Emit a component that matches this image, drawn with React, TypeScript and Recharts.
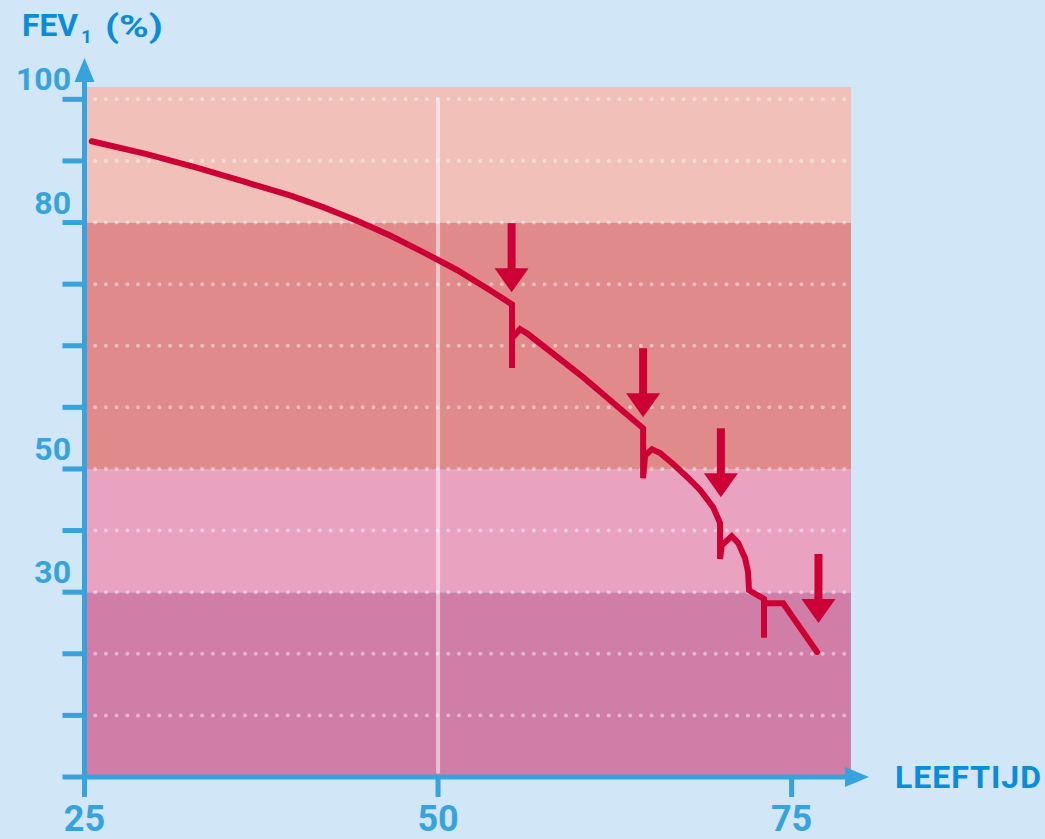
import { ComposedChart, Line, XAxis, YAxis, ReferenceArea, ReferenceLine, ReferenceDot } from "recharts"

// FEV1 curve, y in gridline steps (schematic axis: 30 sits on step 3, 50 on 5, 80 on 9, 100 on 11)
const curveAge = [
  25.51, 29.4, 32.93, 36.47, 39.53, 41.87, 44.27, 46.61, 48.94, 51.34, 53.67, 55.23, 55.23, 55.23, 55.8,
  56.36, 60.25, 64.5, 64.5, 64.64, 65.13, 65.7, 66.62, 67.61, 68.53, 69.45, 69.94, 69.94, 70.06, 70.77,
  71.22, 71.71, 71.92, 71.99, 73.05, 73.05, 73.05, 74.4, 76.8,
]
const curveLevel = [
  10.32, 10.11, 9.89, 9.65, 9.44, 9.25, 9.03, 8.79, 8.52, 8.23, 7.9, 7.67, 6.64, 7.12, 7.27,
  7.19, 6.49, 5.66, 4.85, 5.22, 5.32, 5.26, 5.08, 4.87, 4.66, 4.38, 4.12, 3.54, 3.76, 3.91,
  3.8, 3.55, 3.33, 3.03, 2.89, 2.26, 2.82, 2.82, 2.03,
]

// exacerbation arrows (tip positions)
const arrowAge = [55.2, 64.5, 70.0, 76.9]
const arrowLevel = [7.87, 5.84, 4.54, 2.5]

// coloured bands
const bandFrom = [0, 3, 5, 9]
const bandTo = [3, 5, 9, 11.2]
const bandColors = ["#d07ea8", "#e9a3c0", "#e08a8c", "#f1c0b8"]

const gridSteps = [0, 1, 2, 3, 4, 5, 6, 7, 8, 9, 10, 11]
const yLabelSteps = [3, 5, 9, 11]
const yLabels = ["30", "50", "80", "100"]
const xTicks = [25, 50, 75]

const X_MAX = 79.2
const Y_MAX = 11.2

const AXIS = "#36a3dc"
const TITLE = "#0a8cd8"
const RED = "#cc0035"
const FONT = "Roboto, 'DejaVu Sans', sans-serif"

const curve = curveAge.map((age, i) => ({ age, step: curveLevel[i] }))

function Arrow(props: any) {
  const { cx, cy } = props
  return (
    <g>
      <rect x={cx - 4} y={cy - 69} width={8} height={47} fill={RED} />
      <polygon points={`${cx},${cy} ${cx - 17},${cy - 24} ${cx + 17},${cy - 24}`} fill={RED} />
    </g>
  )
}

function YArrow(props: any) {
  const { cx, cy } = props
  return (
    <g>
      <rect x={cx - 2.5} y={cy - 6} width={5} height={8} fill={AXIS} />
      <polygon points={`${cx},${cy - 29} ${cx - 10},${cy - 5} ${cx + 10},${cy - 5}`} fill={AXIS} />
    </g>
  )
}

function XArrow(props: any) {
  const { cx, cy } = props
  return <polygon points={`${cx - 6},${cy - 10} ${cx + 18},${cy} ${cx - 6},${cy + 10}`} fill={AXIS} />
}

function YTick(props: any) {
  const idx = yLabelSteps.indexOf(props.payload.value)
  if (idx < 0) return <g />
  return (
    <text x={71} y={props.y - 9} textAnchor="end" fontSize={32} fontWeight={700} fontFamily={FONT} fill={AXIS}>
      {yLabels[idx]}
    </text>
  )
}

function XTick(props: any) {
  return (
    <text x={props.x} y={831} textAnchor="middle" fontSize={36} fontWeight={700} fontFamily={FONT} fill={AXIS}>
      {props.payload.value}
    </text>
  )
}

export default function App() {
  return (
    <div style={{ position: "absolute", left: 0, top: 0, width: 1045, height: 839, background: "#d1e6f7" }}>
      <ComposedChart width={1045} height={839} margin={{ top: 87, right: 194, bottom: 12, left: 24.5 }}>
        <XAxis
          type="number"
          dataKey="age"
          domain={[25, X_MAX]}
          ticks={xTicks}
          height={50}
          axisLine={{ stroke: AXIS, strokeWidth: 5 }}
          tickLine={{ stroke: AXIS, strokeWidth: 5 }}
          tickSize={20}
          tick={<XTick />}
          allowDataOverflow
        />
        <YAxis
          type="number"
          dataKey="step"
          domain={[0, Y_MAX]}
          ticks={gridSteps}
          width={60}
          axisLine={{ stroke: AXIS, strokeWidth: 5 }}
          tickLine={{ stroke: AXIS, strokeWidth: 5 }}
          tickSize={22}
          tick={<YTick />}
          interval={0}
          allowDataOverflow
        />
        {bandFrom.map((from, i) => (
          <ReferenceArea key={`band-${i}`} y1={from} y2={bandTo[i]} fill={bandColors[i]} fillOpacity={1} stroke="none" />
        ))}
        {gridSteps.slice(1).map((s) => (
          <ReferenceLine
            key={`grid-${s}`}
            y={s}
            stroke="#ffffff"
            strokeOpacity={0.45}
            strokeWidth={4}
            strokeLinecap="round"
            strokeDasharray="0 10.7"
          />
        ))}
        <ReferenceLine
          segment={[
            { x: 50, y: 0.08 },
            { x: 50, y: 11 },
          ]}
          stroke="#ffffff"
          strokeOpacity={0.5}
          strokeWidth={4}
          strokeLinecap="round"
        />
        <Line
          data={curve}
          dataKey="step"
          type="linear"
          stroke={RED}
          strokeWidth={6}
          strokeLinecap="round"
          dot={false}
          activeDot={false}
          isAnimationActive={false}
        />
        {arrowAge.map((a, i) => (
          <ReferenceDot key={`arrow-${i}`} x={a} y={arrowLevel[i]} shape={Arrow} ifOverflow="visible" />
        ))}
        <ReferenceDot x={25} y={Y_MAX} shape={YArrow} ifOverflow="visible" />
        <ReferenceDot x={X_MAX} y={0} shape={XArrow} ifOverflow="visible" />
      </ComposedChart>
      <svg width={1045} height={839} style={{ position: "absolute", left: 0, top: 0, pointerEvents: "none" }}>
        <text x={22} y={36} fontSize={32} fontWeight={700} fontFamily={FONT} fill={TITLE} textLength={56} lengthAdjust="spacingAndGlyphs">
          FEV
        </text>
        <text x={81} y={43} fontSize={19} fontWeight={700} fontFamily={FONT} fill={TITLE}>
          1
        </text>
        <text x={105} y={37} fontSize={32} fontWeight={700} fontFamily={FONT} fill={TITLE} textLength={58} lengthAdjust="spacingAndGlyphs">
          (%)
        </text>
        <text x={1042} y={788} textAnchor="end" fontSize={32} fontWeight={700} fontFamily={FONT} fill={TITLE} letterSpacing={1}>
          LEEFTIJD
        </text>
      </svg>
    </div>
  )
}
